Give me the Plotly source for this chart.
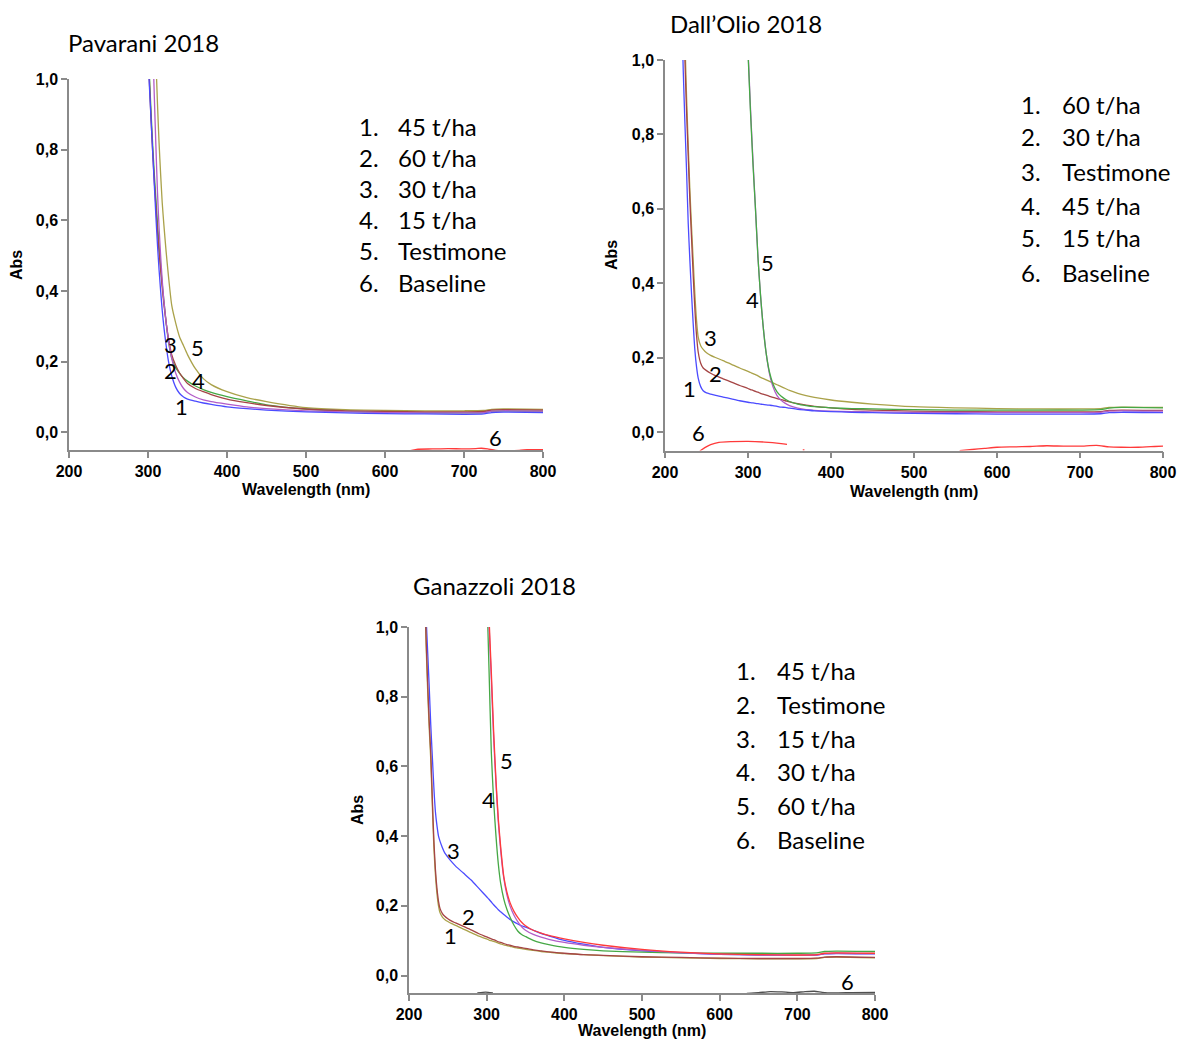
import plotly.graph_objects as go

# ---------------- data ----------------
# Pavarani 2018
PAV_WL = [298, 300, 302, 304, 306, 308, 310, 312, 314, 316, 318, 320, 323, 326, 330, 335, 340, 345, 350,
          360, 370, 380, 400, 425, 450, 500, 550, 600, 650, 700, 725, 735, 750, 800]
PAV_45 = [1.15, 1.06, 0.97, 0.88, 0.79, 0.70, 0.61, 0.53, 0.46, 0.40, 0.345, 0.30, 0.245, 0.20, 0.16, 0.128, 0.11,
          0.10, 0.094, 0.088, 0.083, 0.079, 0.072, 0.067, 0.063, 0.058, 0.055, 0.053, 0.052, 0.051, 0.052, 0.056,
          0.057, 0.056]
PAV_60 = [1.9, 1.6, 1.4, 1.25, 1.1, 0.95, 0.81, 0.68, 0.58, 0.50, 0.43, 0.375, 0.31, 0.26, 0.21, 0.168, 0.142,
          0.124, 0.113, 0.100, 0.092, 0.087, 0.080, 0.072, 0.067, 0.061, 0.058, 0.056, 0.055, 0.055, 0.056, 0.060,
          0.061, 0.060]
PAV_30 = [1.3, 1.1, 0.98, 0.88, 0.79, 0.71, 0.64, 0.57, 0.51, 0.46, 0.41, 0.365, 0.31, 0.265, 0.22, 0.19, 0.168,
          0.152, 0.138, 0.124, 0.115, 0.107, 0.094, 0.084, 0.076, 0.066, 0.061, 0.059, 0.058, 0.058, 0.059, 0.063,
          0.064, 0.063]
PAV_15 = [1.32, 1.12, 1.0, 0.9, 0.81, 0.73, 0.66, 0.59, 0.53, 0.47, 0.42, 0.375, 0.31, 0.255, 0.21, 0.183, 0.167,
          0.154, 0.145, 0.131, 0.121, 0.113, 0.101, 0.089, 0.078, 0.066, 0.060, 0.057, 0.056, 0.055, 0.056, 0.060,
          0.061, 0.060]
PAV_TEST = [2.2, 2.0, 1.8, 1.6, 1.42, 1.25, 1.06, 0.93, 0.82, 0.73, 0.65, 0.59, 0.51, 0.44, 0.36, 0.31, 0.27,
            0.245, 0.22, 0.18, 0.152, 0.135, 0.115, 0.098, 0.087, 0.070, 0.064, 0.062, 0.061, 0.061, 0.062, 0.065,
            0.066, 0.065]
PAV_BASE_WL = [630, 640, 660, 680, 700, 715, 722, 730, 740, 770, 780, 790, 800]
PAV_BASE = [-0.053, -0.048, -0.047, -0.046, -0.047, -0.046, -0.045, -0.047, -0.051, -0.051, -0.049, -0.049, -0.049]

# Dall'Olio 2018
DAL_WL = [218, 220, 222, 224, 226, 228, 230, 232, 234, 236, 238, 240, 243, 246, 250, 255, 260, 270, 280, 290,
          300, 303, 306, 309, 312, 315, 318, 322, 326, 330, 335, 340, 345, 350, 360, 370, 380, 400, 425, 450,
          500, 550, 600, 650, 700, 725, 735, 750, 800]
DAL_60 = [1.4, 1.15, 0.97, 0.83, 0.70, 0.56, 0.46, 0.37, 0.29, 0.22, 0.175, 0.145, 0.122, 0.111, 0.105, 0.102,
          0.099, 0.094, 0.089, 0.084, 0.080, 0.079, 0.078, 0.077, 0.076, 0.075, 0.074, 0.073, 0.072, 0.071, 0.069,
          0.067, 0.066, 0.064, 0.061, 0.059, 0.057, 0.055, 0.053, 0.052, 0.050, 0.049, 0.048, 0.048, 0.048, 0.049,
          0.052, 0.053, 0.052]
DAL_30 = [None, 1.5, 1.2, 1.0, 0.86, 0.74, 0.62, 0.52, 0.42, 0.33, 0.26, 0.215, 0.185, 0.172, 0.165, 0.158,
          0.152, 0.143, 0.134, 0.125, 0.117, 0.114, 0.112, 0.109, 0.107, 0.104, 0.102, 0.099, 0.096, 0.093, 0.090,
          0.087, 0.084, 0.081, 0.076, 0.072, 0.069, 0.065, 0.061, 0.059, 0.056, 0.055, 0.054, 0.054, 0.054, 0.055,
          0.058, 0.059, 0.058]
DAL_TEST = [None, 1.6, 1.3, 1.06, 0.90, 0.77, 0.65, 0.55, 0.46, 0.37, 0.30, 0.255, 0.232, 0.222, 0.213, 0.206,
            0.201, 0.192, 0.182, 0.172, 0.163, 0.160, 0.157, 0.154, 0.151, 0.147, 0.144, 0.140, 0.136, 0.132, 0.127,
            0.122, 0.117, 0.112, 0.104, 0.098, 0.093, 0.086, 0.080, 0.075, 0.068, 0.065, 0.063, 0.062, 0.062, 0.063,
            0.066, 0.067, 0.066]
DAL_45 = [None] * 20 + [1.03, 0.87, 0.73, 0.60, 0.47, 0.37, 0.29, 0.21, 0.155, 0.122, 0.098, 0.085, 0.077,
                        0.071, 0.064, 0.060, 0.058, 0.056, 0.055, 0.054, 0.053, 0.053, 0.052, 0.052, 0.052, 0.053,
                        0.056, 0.057, 0.056]
DAL_15 = [None] * 20 + [1.02, 0.86, 0.72, 0.60, 0.47, 0.37, 0.29, 0.21, 0.16, 0.13, 0.108, 0.096, 0.088,
                        0.082, 0.075, 0.071, 0.068, 0.065, 0.063, 0.062, 0.060, 0.059, 0.059, 0.059, 0.059, 0.060,
                        0.064, 0.066, 0.065]
DAL_BASE_WL = [242, 248, 255, 265, 280, 300, 320, 340, 347, 349, 366, 368, 370, 555, 570, 585, 600, 620, 640,
               660, 680, 700, 720, 735, 750, 770, 790, 800]
DAL_BASE = [-0.051, -0.042, -0.034, -0.028, -0.026, -0.025, -0.027, -0.031, -0.033, None, -0.048, -0.048, None,
            -0.050, -0.047, -0.044, -0.041, -0.040, -0.039, -0.037, -0.038, -0.038, -0.036, -0.040, -0.041,
            -0.041, -0.039, -0.038]

# Ganazzoli 2018
GAN_WL = DAL_WL
GAN_45 = [1.35, 1.12, 0.95, 0.82, 0.71, 0.62, 0.49, 0.37, 0.29, 0.235, 0.20, 0.18, 0.168, 0.161, 0.155, 0.149,
          0.144, 0.133, 0.123, 0.113, 0.105, 0.102, 0.100, 0.098, 0.096, 0.093, 0.091, 0.088, 0.086, 0.084, 0.081,
          0.079, 0.077, 0.075, 0.072, 0.069, 0.067, 0.063, 0.060, 0.057, 0.053, 0.051, 0.049, 0.048, 0.048, 0.049,
          0.052, 0.053, 0.051]
GAN_TEST = [1.38, 1.14, 0.97, 0.84, 0.73, 0.64, 0.51, 0.39, 0.305, 0.25, 0.213, 0.192, 0.178, 0.170, 0.163,
            0.156, 0.151, 0.141, 0.131, 0.120, 0.111, 0.108, 0.105, 0.103, 0.100, 0.097, 0.095, 0.092, 0.089,
            0.087, 0.084, 0.082, 0.080, 0.078, 0.074, 0.071, 0.068, 0.064, 0.060, 0.058, 0.054, 0.052, 0.050,
            0.049, 0.049, 0.050, 0.053, 0.054, 0.052]
GAN_15 = [1.3, 1.15, 1.03, 0.93, 0.83, 0.72, 0.63, 0.54, 0.47, 0.43, 0.40, 0.385, 0.367, 0.352, 0.34, 0.326,
          0.314, 0.294, 0.274, 0.25, 0.226, 0.219, 0.211, 0.203, 0.196, 0.189, 0.183, 0.175, 0.168, 0.161, 0.154,
          0.148, 0.143, 0.139, 0.130, 0.121, 0.114, 0.101, 0.090, 0.081, 0.071, 0.065, 0.061, 0.059, 0.058, 0.059,
          0.062, 0.063, 0.062]
GAN_30 = [None] * 20 + [1.12, 0.88, 0.64, 0.50, 0.40, 0.32, 0.265, 0.22, 0.19, 0.168, 0.145, 0.128, 0.118,
                        0.112, 0.101, 0.094, 0.089, 0.081, 0.075, 0.071, 0.067, 0.065, 0.064, 0.064, 0.064, 0.065,
                        0.069, 0.070, 0.069]
GAN_60 = [None] * 20 + [1.25, 1.03, 0.87, 0.70, 0.56, 0.45, 0.37, 0.285, 0.24, 0.21, 0.185, 0.167, 0.153,
                        0.143, 0.130, 0.122, 0.115, 0.105, 0.095, 0.087, 0.075, 0.067, 0.062, 0.060, 0.059, 0.060,
                        0.064, 0.065, 0.064]
GAN_X = [None] * 20 + [1.22, 1.01, 0.85, 0.68, 0.55, 0.44, 0.36, 0.28, 0.232, 0.20, 0.174, 0.155, 0.14, 0.13,
                       0.118, 0.11, 0.104, 0.095, 0.087, 0.081, 0.072, 0.066, 0.061, 0.059, 0.058, 0.059, 0.063,
                       0.064, 0.063]
GAN_BASE_WL = [288, 295, 302, 308, 309, 635, 650, 665, 680, 695, 710, 722, 732, 745, 770, 800]
GAN_BASE = [-0.050, -0.048, -0.048, -0.050, None, -0.051, -0.049, -0.046, -0.047, -0.049, -0.046, -0.045,
            -0.048, -0.050, -0.049, -0.048]

X_TICKS = [200, 300, 400, 500, 600, 700, 800]
Y_TICKS = [0.0, 0.2, 0.4, 0.6, 0.8, 1.0]
Y_TICK_TEXT = ["0,0", "0,2", "0,4", "0,6", "0,8", "1,0"]

PAV_LEGEND = ["45 t/ha", "60 t/ha", "30 t/ha", "15 t/ha", "Testimone", "Baseline"]
DAL_LEGEND = ["60 t/ha", "30 t/ha", "Testimone", "45 t/ha", "15 t/ha", "Baseline"]
GAN_LEGEND = ["45 t/ha", "Testimone", "15 t/ha", "30 t/ha", "60 t/ha", "Baseline"]

# curve number labels: (label, wavelength, abs)
PAV_LABELS = [("1", 343, 0.073), ("2", 329, 0.174), ("3", 329, 0.249), ("4", 364, 0.147), ("5", 363, 0.24),
              ("6", 740, -0.014)]
DAL_LABELS = [("1", 229, 0.118), ("2", 261, 0.156), ("3", 255, 0.255), ("4", 306, 0.355), ("5", 324, 0.457),
              ("6", 240, 0.0)]
GAN_LABELS = [("1", 254, 0.115), ("2", 277, 0.17), ("3", 257, 0.359), ("4", 302, 0.506), ("5", 326, 0.618),
              ("6", 765, -0.017)]

# ---------------- styles ----------------
BLUE = "#4b4bff"
PURPLE = "#b25cc8"
DKRED = "#a54545"
GREEN = "#45a845"
OLIVE = "#aaa24a"
RED = "#ff3a3a"
DARK = "#505050"
W = 1182
H = 1041
TXT_FONT = "Lato"
AX_FONT = "Liberation Sans"
TXT_SIZE = 24
LBL_SIZE = 22
AX_SIZE = 16

fig = go.Figure()


def add(xs, ys, color, ax, name):
    fig.add_trace(go.Scatter(x=xs, y=ys, mode="lines", name=name, showlegend=False,
                             line=dict(color=color, width=1.3, shape="spline", smoothing=0.6),
                             xaxis="x" + ax, yaxis="y" + ax, hoverinfo="skip"))


add(PAV_WL, PAV_TEST, OLIVE, "", "Testimone")
add(PAV_WL, PAV_15, GREEN, "", "15 t/ha")
add(PAV_WL, PAV_30, DKRED, "", "30 t/ha")
add(PAV_WL, PAV_60, PURPLE, "", "60 t/ha")
add(PAV_WL, PAV_45, BLUE, "", "45 t/ha")
add(PAV_BASE_WL, PAV_BASE, RED, "", "Baseline")

add(DAL_WL, DAL_TEST, OLIVE, "2", "Testimone")
add(DAL_WL, DAL_30, DKRED, "2", "30 t/ha")
add(DAL_WL, DAL_45, PURPLE, "2", "45 t/ha")
add(DAL_WL, DAL_15, GREEN, "2", "15 t/ha")
add(DAL_WL, DAL_60, BLUE, "2", "60 t/ha")
add(DAL_BASE_WL, DAL_BASE, RED, "2", "Baseline")

add(GAN_WL, GAN_15, BLUE, "3", "15 t/ha")
add(GAN_WL, GAN_30, GREEN, "3", "30 t/ha")
add(GAN_WL, GAN_X, PURPLE, "3", "")
add(GAN_WL, GAN_60, RED, "3", "60 t/ha")
add(GAN_WL, GAN_45, OLIVE, "3", "45 t/ha")
add(GAN_WL, GAN_TEST, DKRED, "3", "Testimone")
add(GAN_BASE_WL, GAN_BASE, DARK, "3", "Baseline")

axis_common = dict(showline=True, linecolor="#8a8a8a", linewidth=1.5, ticks="outside", tickcolor="#8a8a8a",
                   ticklen=6, tickwidth=1.5, showgrid=False, zeroline=False, automargin=False,
                   tickfont=dict(family=AX_FONT, size=AX_SIZE, color="black", weight="bold"))


def xax(dom, anchor):
    return dict(domain=dom, anchor=anchor, range=[200, 800], tickvals=X_TICKS, **axis_common)


def yax(dom, anchor):
    return dict(domain=dom, anchor=anchor, range=[-0.05, 1.0], tickvals=Y_TICKS, ticktext=Y_TICK_TEXT,
                **axis_common)


def px_x(v):
    return v / W


def px_y(v):
    return 1 - v / H


layout = dict(
    template="none",
    width=W, height=H, margin=dict(l=0, r=0, t=0, b=0, pad=0, autoexpand=False),
    paper_bgcolor="white", plot_bgcolor="white", showlegend=False,
    xaxis=xax([px_x(69), px_x(543)], "y"), yaxis=yax([px_y(450), px_y(79)], "x"),
    xaxis2=xax([px_x(665), px_x(1163)], "y2"), yaxis2=yax([px_y(450.6), px_y(60)], "x2"),
    xaxis3=xax([px_x(409), px_x(875)], "y3"), yaxis3=yax([px_y(993), px_y(627)], "x3"),
)
fig.update_layout(**layout)

ann = []


def text_ann(x, y, s, size, family=TXT_FONT, xanchor="left", weight="normal", angle=0):
    ann.append(dict(x=px_x(x), y=px_y(y), xref="paper", yref="paper", text=s, showarrow=False,
                    xanchor=xanchor, yanchor="middle", textangle=angle,
                    font=dict(family=family, size=size, color="black", weight=weight)))


# titles
text_ann(66, 43, "Pavarani 2018", TXT_SIZE)
text_ann(668, 24, "Dall’Olio 2018", TXT_SIZE)
text_ann(411, 585, "Ganazzoli 2018", TXT_SIZE)

# axis titles
for (cx, cy, ax_x, ax_y) in [(306, 489, 17, 265), (914, 491, 612, 255), (642, 1030, 357, 810)]:
    text_ann(cx, cy, "Wavelength (nm)", AX_SIZE, family=AX_FONT, xanchor="center", weight="bold")
    text_ann(ax_x, ax_y, "Abs", AX_SIZE, family=AX_FONT, xanchor="center", weight="bold", angle=-90)

# numbered legends
for items, nx, tx, ys in [(PAV_LEGEND, 357, 396, [127, 158, 189, 220, 251, 282]),
                          (DAL_LEGEND, 1019, 1060, [104, 137, 171, 205, 238, 272]),
                          (GAN_LEGEND, 734, 775, [670, 704, 738, 772, 805, 839])]:
    for i, (lab, yy) in enumerate(zip(items, ys)):
        text_ann(nx, yy, f"{i + 1}.", TXT_SIZE)
        text_ann(tx, yy, lab, TXT_SIZE)

# curve labels in data coordinates
for labels, ax in [(PAV_LABELS, ""), (DAL_LABELS, "2"), (GAN_LABELS, "3")]:
    for s, wl, ab in labels:
        ann.append(dict(x=wl, y=ab, xref="x" + ax, yref="y" + ax, text=s, showarrow=False,
                        xanchor="center", yanchor="middle",
                        font=dict(family=TXT_FONT, size=LBL_SIZE, color="black")))

fig.update_layout(annotations=ann)
fig.write_html("out.html", post_script="document.body.style.margin='0';document.body.style.overflow='hidden';")
